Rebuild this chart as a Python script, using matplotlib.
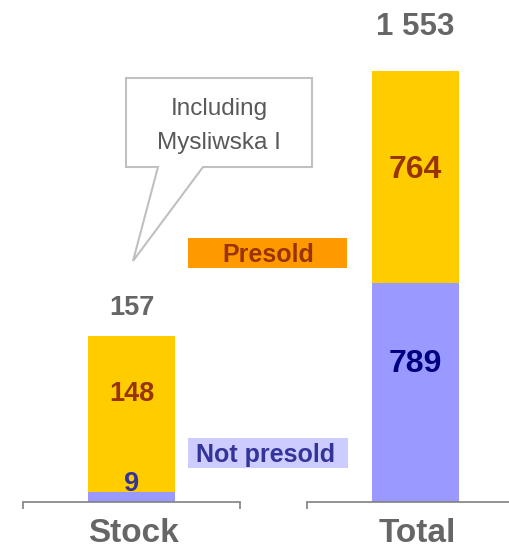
import matplotlib
matplotlib.use('Agg')
import matplotlib.pyplot as plt
from matplotlib.patches import Polygon, Rectangle

plt.rcParams['font.family'] = ['Liberation Sans', 'DejaVu Sans']

# data
categories = ['Stock', 'Total']
not_presold = [9, 789]
presold = [148, 764]
totals = ['157', '1 553']
callout_text = 'Including\nMysliwska I'

YELLOW = '#FFCC00'
BLUE = '#9999FF'
GREY = '#666666'

W, H = 510, 549
fig = plt.figure(figsize=(W / 100, H / 100), dpi=100)


def fx(x):
    return x / W


def fy(y):
    return 1 - y / H


# each bar on its own axes (the two columns are not on the same scale)
ax_stock = fig.add_axes([fx(23), fy(502), 217 / W, 502 / H])
ax_total = fig.add_axes([fx(307), fy(502), 217 / W, 502 / H])
axes = [ax_stock, ax_total]
ylims = [475, 1809]

# label tweaks (pixels above segment centre)
seg_offsets = [(13, 20), (29, 7)]
total_offsets = [28, 44]
sizes = [19.5, 23]
total_sizes = [19.5, 22.5]
blue_text = ['#333399', '#000080']

for i, ax in enumerate(axes):
    ax.bar(0.5, not_presold[i], width=0.4, color=BLUE, linewidth=0)
    ax.bar(0.5, presold[i], width=0.4, bottom=not_presold[i], color=YELLOW, linewidth=0)
    ax.set_xlim(0, 1)
    ax.set_ylim(0, ylims[i])
    for s in ['top', 'left', 'right']:
        ax.spines[s].set_visible(False)
    ax.spines['bottom'].set_color('#808080')
    ax.spines['bottom'].set_linewidth(1.2)
    ax.set_yticks([])
    ax.set_xticks([0, 1])
    ax.tick_params(axis='x', length=5, width=1.2, color='#808080', labelbottom=False)
    ax.patch.set_visible(False)

    top = not_presold[i] + presold[i]
    ax.annotate(str(not_presold[i]), (0.5, not_presold[i] / 2), xytext=(0, seg_offsets[i][0]),
                textcoords='offset pixels', ha='center', va='center',
                fontsize=sizes[i], fontweight='bold', color=blue_text[i])
    ax.annotate(str(presold[i]), (0.5, not_presold[i] + presold[i] / 2), xytext=(0, seg_offsets[i][1]),
                textcoords='offset pixels', ha='center', va='center',
                fontsize=sizes[i], fontweight='bold', color='#993300')
    ax.annotate(totals[i], (0.5, top), xytext=(0, total_offsets[i]),
                textcoords='offset pixels', ha='center', va='center',
                fontsize=total_sizes[i], fontweight='bold', color=GREY)
    ax.annotate(categories[i], (0.5, 0), xytext=(2, -32),
                textcoords='offset pixels', ha='center', va='center',
                fontsize=24, fontweight='bold', color=GREY, annotation_clip=False)

# legend boxes
fig.patches.append(Rectangle((fx(188), fy(268)), 159 / W, 30 / H, transform=fig.transFigure,
                             facecolor='#FF9900', edgecolor='none'))
fig.text(fx(268), fy(255), 'Presold', ha='center', va='center', fontsize=18,
         fontweight='bold', color='#993300')
fig.patches.append(Rectangle((fx(188), fy(468)), 160 / W, 30 / H, transform=fig.transFigure,
                             facecolor='#CCCCFF', edgecolor='none'))
fig.text(fx(266), fy(455), 'Not presold', ha='center', va='center', fontsize=18,
         fontweight='bold', color='#333399')

# callout
pts = [(126, 78), (312, 78), (312, 167), (203, 167), (133, 261), (158, 167), (126, 167)]
fig.patches.append(Polygon([(fx(x), fy(y)) for x, y in pts], closed=True, transform=fig.transFigure,
                           facecolor='white', edgecolor='#C0C0C0', linewidth=1.5))
fig.text(fx(219), fy(126), callout_text, ha='center', va='center', fontsize=17.5,
         color='#595959', linespacing=1.7)

fig.savefig('out.png', dpi=100)
